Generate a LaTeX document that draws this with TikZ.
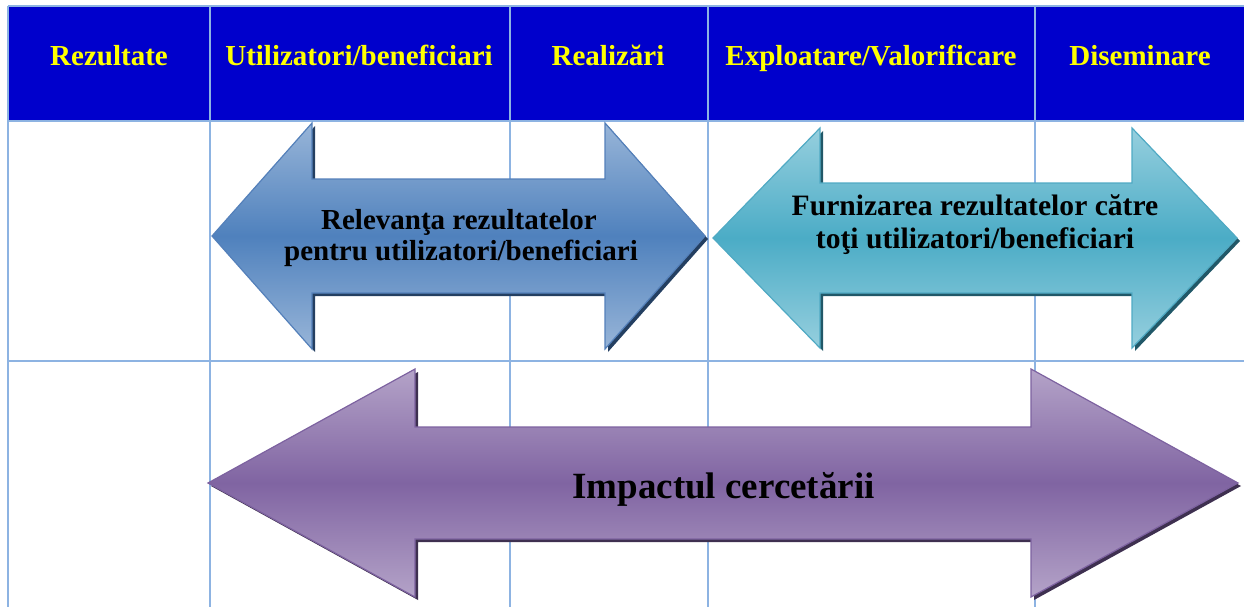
\documentclass[tikz,border=0pt]{standalone}
\usepackage{fontspec}
\setmainfont{Liberation Serif}
\definecolor{hdrblue}{RGB}{0,0,204}
\definecolor{gridblue}{RGB}{141,179,226}
\definecolor{hdryellow}{RGB}{255,255,0}
\definecolor{blueL}{RGB}{152,181,216}
\definecolor{blueM}{RGB}{79,129,189}
\definecolor{blueE}{RGB}{84,128,186}
\definecolor{blueS}{RGB}{36,63,97}
\definecolor{tealL}{RGB}{150,207,222}
\definecolor{tealM}{RGB}{75,172,198}
\definecolor{tealE}{RGB}{80,170,196}
\definecolor{tealS}{RGB}{33,88,104}
\definecolor{purpL}{RGB}{180,163,200}
\definecolor{purpM}{RGB}{128,100,162}
\definecolor{purpE}{RGB}{125,98,160}
\definecolor{purpS}{RGB}{62,48,80}
\newcommand{\darrowpath}[7]{(#1,#5) -- (#2,#5-#6) -- (#2,#5-#7) -- (#3,#5-#7) -- (#3,#5-#6) -- (#4,#5) -- (#3,#5+#6) -- (#3,#5+#7) -- (#2,#5+#7) -- (#2,#5+#6) -- cycle}
\tikzset{
  gridline/.style={draw=gridblue, line width=2pt},
  hdrtext/.style={text=hdryellow, font=\fontsize{29}{34}\selectfont\bfseries, inner sep=0pt, anchor=base},
  arrowtext/.style={text=black, font=\fontsize{29}{34}\selectfont\bfseries, inner sep=0pt, anchor=base},
  arrowtextb/.style={text=black, font=\fontsize{29.6}{34}\selectfont\bfseries, inner sep=0pt, anchor=base},
  bigtext/.style={text=black, font=\fontsize{37}{44}\selectfont\bfseries, inner sep=0pt, anchor=base}
}
\begin{document}
\begin{tikzpicture}[x=1pt,y=-1pt]
\useasboundingbox (0,0) rectangle (1244,607);
% header fill
\fill[hdrblue] (8,6) rectangle (1244,121);
% grid
\draw[gridline] (8,6) -- (1244,6);
\draw[gridline] (8,121) -- (1244,121);
\draw[gridline] (8,361) -- (1244,361);
\foreach \xx in {8,210,510,708,1035} {
  \draw[gridline] (\xx,6) -- (\xx,607);
}
% header texts
\node[hdrtext] (h1) at (109,66) {Rezultate};
\node[hdrtext] (h2) at (359,66) {Utilizatori/beneficiari};
\node[hdrtext] (h3) at (608,66) {Realizări};
\node[hdrtext] (h4) at (871,66) {Exploatare/Valorificare};
\node[hdrtext] (h5) at (1140,66) {Diseminare};
% arrow 1 (blue)
\fill[blueS, shift={(3,3)}] \darrowpath{212}{312}{605}{705}{236}{113}{57};
\shade[top color=blueL, bottom color=blueL, middle color=blueM, draw=blueE, line width=1.2pt] \darrowpath{212}{312}{605}{705}{236}{113}{57};
\node[arrowtext] (t1a) at (459,229) {Relevanţa rezultatelor};
\node[arrowtext] (t1b) at (461,260) {pentru utilizatori/beneficiari};
% arrow 2 (teal)
\fill[tealS, shift={(3,3)}] \darrowpath{713}{820}{1132}{1237}{238}{110}{55};
\shade[top color=tealL, bottom color=tealL, middle color=tealM, draw=tealE, line width=1.2pt] \darrowpath{713}{820}{1132}{1237}{238}{110}{55};
\node[arrowtextb] (t2a) at (975,215) {Furnizarea rezultatelor către};
\node[arrowtextb] (t2b) at (975,248) {toţi utilizatori/beneficiari};
% arrow 3 (purple)
\fill[purpS, shift={(3,3)}] \darrowpath{208}{415}{1031}{1238}{483}{114}{56};
\shade[top color=purpL, bottom color=purpL, middle color=purpM, draw=purpE, line width=1.2pt] \darrowpath{208}{415}{1031}{1238}{483}{114}{56};
\node[bigtext] (t3) at (723.5,498) {Impactul cercetării};
\end{tikzpicture}
\end{document}
